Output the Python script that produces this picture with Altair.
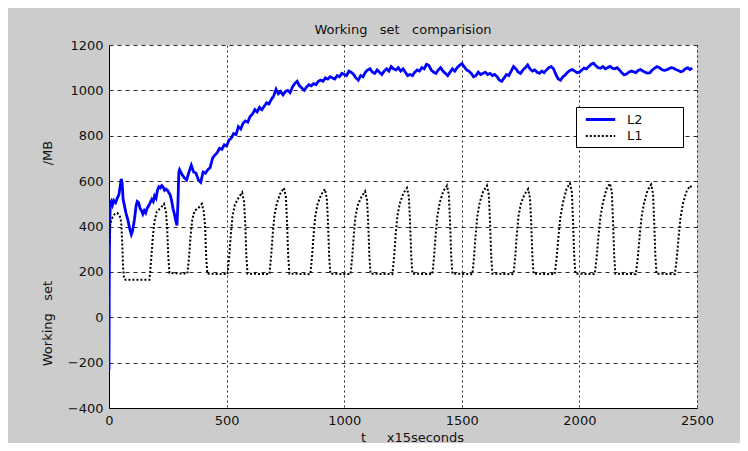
import altair as alt
import pandas as pd

NB = "\u00a0"
EN = "\u2002"
BLANK = "\u2800"
FONT = "DejaVu Sans"

SERIES = ["L2", "L1"]
COLORS = ["#0000ff", "#000000"]
DASHES = [[1, 0], [2, 2]]
X_TICKS = [0, 500, 1000, 1500, 2000, 2500]
Y_TICKS = [-400, -200, 0, 200, 400, 600, 800, 1000, 1200]

# ---- L2 (blue) ----
L2_T = [0, 1, 2, 4, 6, 10, 15, 20, 28, 35, 42, 48, 52, 56, 60, 66, 72, 80, 88, 95,
        100, 108, 115, 120, 126, 132, 138, 144, 150, 156, 162, 168, 175, 182, 188, 194,
        200, 206, 212, 218, 224, 230, 236, 242, 248, 254, 260, 266, 272, 278, 284, 289, 293, 297,
        300, 310, 320, 330, 340, 350, 360, 370, 380, 390,
        400, 410, 420, 430, 440, 450, 460, 470, 480, 490,
        500, 510, 520, 530, 540, 550, 560, 570, 580, 590,
        600, 610, 620, 630, 640, 650, 660, 670, 680, 690,
        700, 710, 720, 730, 740, 750, 760, 770, 780, 790,
        800, 810, 820, 830, 840, 850, 860, 870, 880, 890,
        900, 910, 920, 930, 940, 950, 960, 970, 980, 990,
        1000, 1010, 1020, 1030, 1040, 1050, 1060, 1070, 1080, 1090,
        1100, 1110, 1120, 1130, 1140, 1150, 1160, 1170, 1180, 1190,
        1200, 1210, 1220, 1230, 1240, 1250, 1260, 1270, 1280, 1290,
        1300, 1310, 1320, 1330, 1340, 1350, 1360, 1370, 1380, 1390,
        1400, 1410, 1420, 1430, 1440, 1450, 1460, 1470, 1480, 1490,
        1500, 1510, 1520, 1530, 1540, 1550, 1560, 1570, 1580, 1590,
        1600, 1610, 1620, 1630, 1640, 1650, 1660, 1670, 1680, 1690,
        1700, 1710, 1720, 1730, 1740, 1750, 1760, 1770, 1780, 1790,
        1800, 1810, 1820, 1830, 1840, 1850, 1860, 1870, 1880, 1890,
        1900, 1910, 1920, 1930, 1940, 1950, 1960, 1970, 1980, 1990,
        2000, 2010, 2020, 2030, 2040, 2050, 2060, 2070, 2080, 2090,
        2100, 2110, 2120, 2130, 2140, 2150, 2160, 2170, 2180, 2190,
        2200, 2210, 2220, 2230, 2240, 2250, 2260, 2270, 2280, 2290,
        2300, 2310, 2320, 2330, 2340, 2350, 2360, 2370, 2380, 2390,
        2400, 2410, 2420, 2430, 2440, 2450, 2460, 2470, 2480]
L2_WS = [-230, 100, 320, 450, 500, 510, 495, 515, 505, 525, 540, 580, 610, 590, 520, 490, 460, 430, 390, 365,
         380, 430, 490, 510, 505, 480, 470, 455, 470, 460, 480, 490, 505, 520, 510, 535,
         525, 560, 575, 570, 580, 575, 560, 565, 560, 550, 540, 515, 480, 455, 425, 405, 500, 640,
         650, 630, 615, 605, 640, 670, 640, 635, 605, 595,
         640, 635, 650, 660, 700, 715, 725, 745, 740, 760,
         755, 780, 790, 810, 805, 840, 830, 855, 865, 860,
         885, 895, 915, 905, 925, 915, 930, 945, 940, 960,
         975, 1005, 985, 995, 980, 995, 1000, 990, 1015, 1030,
         1040, 1020, 1010, 1000, 1015, 1025, 1020, 1030, 1025, 1040,
         1045, 1040, 1055, 1050, 1060, 1055, 1050, 1065, 1060, 1075,
         1070, 1065, 1085, 1080, 1070, 1055, 1045, 1065, 1060, 1080,
         1090, 1095, 1080, 1075, 1090, 1080, 1070, 1085, 1095, 1085,
         1105, 1095, 1090, 1100, 1085, 1095, 1080, 1065, 1070, 1065,
         1080, 1090, 1085, 1100, 1095, 1115, 1110, 1090, 1080, 1075,
         1090, 1100, 1085, 1075, 1065, 1080, 1095, 1085, 1100, 1110,
         1118, 1105, 1090, 1085, 1075, 1060, 1065, 1080, 1070, 1075,
         1080, 1070, 1075, 1065, 1070, 1060, 1045, 1040, 1055, 1070,
         1065, 1085, 1105, 1095, 1080, 1075, 1090, 1100, 1112, 1095,
         1085, 1090, 1080, 1075, 1085, 1078, 1090, 1100, 1105, 1095,
         1070, 1050, 1045, 1060, 1068, 1080, 1088, 1092, 1085, 1078,
         1080, 1090, 1098, 1095, 1105, 1115, 1120, 1108, 1100, 1098,
         1105, 1095, 1100, 1106, 1098, 1095, 1100, 1090, 1078, 1068,
         1072, 1080, 1085, 1082, 1078, 1088, 1092, 1085, 1080, 1076,
         1078, 1090, 1098, 1105, 1100, 1092, 1088, 1090, 1095, 1100,
         1098, 1092, 1088, 1082, 1085, 1095, 1100, 1092, 1098]

# ---- L1 (black dotted) ----
L1_T = [0, 3, 8, 15, 25, 35, 45, 52, 56, 60, 64, 70,
        172, 179, 186, 193, 203, 218, 234, 242, 247, 252, 257,
        333, 340, 347, 354, 364, 379, 395, 403, 408, 413, 418,
        504, 511, 518, 525, 535, 550, 566, 574, 579, 584, 589,
        682, 689, 696, 703, 713, 728, 744, 752, 757, 762, 767,
        856, 863, 870, 877, 887, 902, 918, 926, 931, 936, 941,
        1027, 1034, 1041, 1048, 1058, 1073, 1089, 1097, 1102, 1107, 1112,
        1205, 1212, 1219, 1226, 1236, 1251, 1267, 1275, 1280, 1285, 1290,
        1375, 1382, 1389, 1396, 1406, 1421, 1437, 1445, 1450, 1455, 1460,
        1545, 1552, 1559, 1566, 1576, 1591, 1607, 1615, 1620, 1625, 1630,
        1720, 1727, 1734, 1741, 1751, 1766, 1782, 1790, 1795, 1800, 1805,
        1895, 1903, 1911, 1919, 1930, 1945, 1960, 1968, 1973, 1978, 1983,
        2065, 2073, 2081, 2089, 2100, 2115, 2130, 2138, 2143, 2148, 2153,
        2240, 2248, 2256, 2264, 2275, 2290, 2305, 2313, 2318, 2323, 2328,
        2406, 2414, 2422, 2430, 2441, 2456, 2471, 2478]
L1_WS = [330, 400, 420, 440, 455, 460, 450, 420, 330, 220, 170, 165,
         165, 250, 350, 420, 465, 480, 500, 465, 400, 270, 195,
         192, 260, 360, 430, 470, 480, 500, 465, 410, 270, 192,
         190, 265, 365, 445, 495, 525, 550, 510, 420, 270, 192,
         190, 265, 365, 445, 500, 545, 570, 530, 420, 270, 192,
         190, 265, 365, 445, 500, 540, 565, 525, 420, 270, 192,
         190, 265, 365, 445, 495, 530, 555, 515, 420, 270, 192,
         190, 265, 365, 445, 500, 545, 570, 530, 420, 270, 192,
         190, 265, 365, 445, 505, 555, 580, 540, 420, 270, 192,
         190, 265, 365, 445, 505, 555, 580, 540, 420, 270, 192,
         190, 265, 365, 445, 500, 540, 565, 525, 420, 270, 192,
         190, 260, 355, 440, 505, 565, 590, 550, 420, 270, 192,
         190, 260, 355, 440, 505, 565, 590, 550, 420, 270, 192,
         190, 260, 355, 440, 505, 560, 585, 545, 420, 270, 192,
         190, 260, 355, 440, 505, 555, 580, 570]

df = pd.DataFrame({
    "t": L2_T + L1_T,
    "ws": L2_WS + L1_WS,
    "series": ["L2"] * len(L2_T) + ["L1"] * len(L1_T),
})

legend = alt.Legend(
    title=None, orient="none", legendX=467, legendY=62,
    symbolType="M-2.1,0H2.1", symbolSize=196, symbolStrokeWidth=2,
    symbolOffset=12, labelOffset=18,
    labelFont=FONT, labelFontSize=13, labelColor="#111",
    fillColor="white", strokeColor="black", padding=4, rowPadding=1,
    labelExpr="datum.label + '" + EN * 4 + BLANK + "'",
)

chart = alt.Chart(df).mark_line(clip=True, strokeCap="butt").encode(
    x=alt.X("t:Q", scale=alt.Scale(domain=[0, 2500], nice=False, zero=False),
            axis=alt.Axis(values=X_TICKS, format="d", title="t" + NB * 5 + "x15seconds",
                          gridDash=[2, 3], titleX=303, titleY=29, titleBaseline="middle")),
    y=alt.Y("ws:Q", scale=alt.Scale(domain=[-400, 1200], nice=False, zero=False),
            axis=alt.Axis(values=Y_TICKS, format="d",
                          title="Working" + NB * 3 + "set" + NB * 28 + "/MB",
                          gridDash=[4, 4], titleAngle=270, titleX=-62, titleY=208,
                          titleBaseline="middle")),
    color=alt.Color("series:N", scale=alt.Scale(domain=SERIES, range=COLORS), legend=legend),
    strokeDash=alt.StrokeDash("series:N", scale=alt.Scale(domain=SERIES, range=DASHES), legend=legend),
    strokeWidth=alt.StrokeWidth("series:N", scale=alt.Scale(domain=SERIES, range=[2.8, 2]), legend=None),
).properties(
    width=588, height=363,
    title=alt.TitleParams(
        text="Working" + NB * 3 + "set" + NB * 3 + "comparision",
        font=FONT, fontSize=13, fontWeight="normal", color="#111",
        anchor="middle", offset=2,
    ),
    autosize=alt.AutoSizeParams(type="none"),
    padding={"left": 101, "top": 37, "right": 43, "bottom": 35},
    background="#cccccc",
).configure_view(
    fill="white", strokeWidth=0,
).configure_axis(
    domainColor="black", domainWidth=1, gridColor="black", gridWidth=1, gridOpacity=0.85,
    ticks=False, labelFont=FONT, labelFontSize=13, labelColor="#111", labelPadding=6,
    labelFlush=False, labelOverlap=False,
    titleFont=FONT, titleFontSize=13, titleFontWeight="normal", titleColor="#111",
)

chart.save("out.html", embed_options={"renderer": "svg", "actions": False})
